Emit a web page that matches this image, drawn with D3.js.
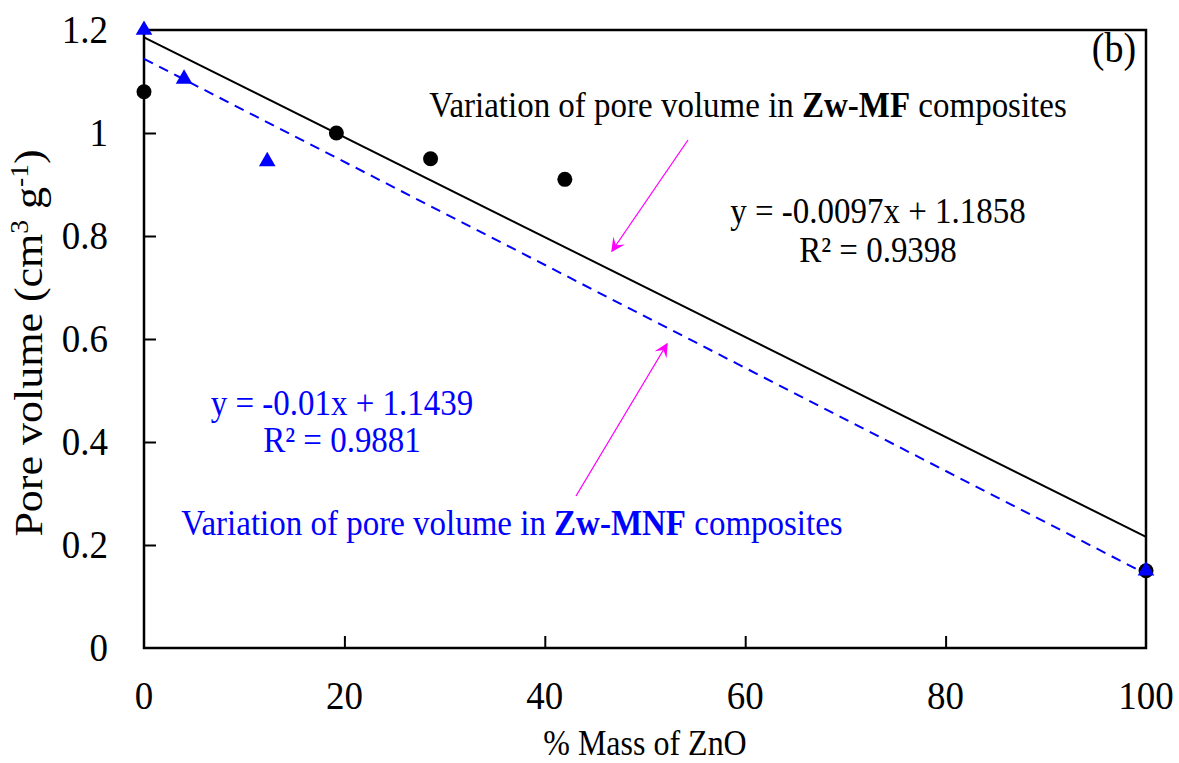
<!DOCTYPE html>
<html>
<head>
<meta charset="utf-8">
<script src="https://cdn.jsdelivr.net/npm/d3@7"></script>
<style>
  body { margin: 0; background: #fff; }
  text { font-family: "Liberation Serif", "Times New Roman", serif; }
</style>
</head>
<body>
<svg id="chart" width="1179" height="763"></svg>
<script>
// data
var mfMass = [0, 19.2, 28.6, 42.0, 100];
var mfVolume = [1.08, 1.0, 0.95, 0.91, 0.15];
var mnfMass = [0, 4.0, 12.3, 100];
var mnfVolume = [1.2, 1.105, 0.945, 0.15];
// trend lines (slope, intercept) as printed on the chart
var mfFit = [-0.0097, 1.1858];
var mnfFit = [-0.01, 1.1439];
var xTicks = [0, 20, 40, 60, 80, 100];
var yTicks = [0, 0.2, 0.4, 0.6, 0.8, 1, 1.2];

var svg = d3.select("#chart");
var plotLeft = 144, plotRight = 1146, plotTop = 30, plotBottom = 648;
var stretch = 1.1; // the original picture is a bit taller than wide

var x = d3.scaleLinear().domain([0, 100]).range([plotLeft, plotRight]);
var y = d3.scaleLinear().domain([0, 1.2]).range([plotBottom, plotTop]);

// text placed at a baseline point, slightly stretched vertically
function addText(px, py, size, anchor, fill) {
    return svg.append("g")
        .attr("transform", "translate(" + px + "," + py + ") scale(1," + stretch + ")")
        .append("text")
        .attr("text-anchor", anchor)
        .style("font-size", size + "px")
        .style("fill", fill || "#000");
}

// frame
svg.append("rect")
    .attr("x", plotLeft).attr("y", plotTop)
    .attr("width", plotRight - plotLeft).attr("height", plotBottom - plotTop)
    .style("fill", "none").style("stroke", "#000").style("stroke-width", 2.5);

// ticks pointing inside
var yAxis = d3.axisRight(y).tickValues(yTicks.slice(1, -1)).tickSize(12).tickFormat("");
svg.append("g").attr("transform", "translate(" + plotLeft + ",0)").call(yAxis)
    .call(function(g) { g.select(".domain").remove(); })
    .selectAll("line").style("stroke", "#000").style("stroke-width", 2);

var xAxis = d3.axisTop(x).tickValues(xTicks.slice(1, -1)).tickSize(12).tickFormat("");
svg.append("g").attr("transform", "translate(0," + plotBottom + ")").call(xAxis)
    .call(function(g) { g.select(".domain").remove(); })
    .selectAll("line").style("stroke", "#000").style("stroke-width", 2);

// tick labels
yTicks.forEach(function(d) {
    addText(108, y(d) + 13, 37, "end").text(d3.format("~g")(d));
});
xTicks.forEach(function(d) {
    addText(x(d), 709, 37, "middle").text(d);
});

// axis titles
addText(645, 755, 32, "middle").text("% Mass of ZnO");

var yTitle = svg.append("g")
    .attr("transform", "translate(42,343) rotate(-90) scale(" + stretch + ",1)")
    .append("text")
    .attr("text-anchor", "middle").style("font-size", "40px");
yTitle.append("tspan").text("Pore volume (cm");
yTitle.append("tspan").attr("dy", -14).style("font-size", "25px").text("3");
yTitle.append("tspan").attr("dy", 14).text(" g");
yTitle.append("tspan").attr("dy", -14).style("font-size", "25px").text("-1");
yTitle.append("tspan").attr("dy", 14).text(")");

// trend lines
var line = d3.line().x(function(d) { return x(d[0]); }).y(function(d) { return y(d[1]); });
function fitPoints(f) { return [[0, f[1]], [100, f[0] * 100 + f[1]]]; }

svg.append("path").attr("d", line(fitPoints(mfFit)))
    .style("fill", "none").style("stroke", "#000").style("stroke-width", 2);
svg.append("path").attr("d", line(fitPoints(mnfFit)))
    .style("fill", "none").style("stroke", "#0000ff").style("stroke-width", 2)
    .style("stroke-dasharray", "10,7");

// markers
svg.selectAll(".mf").data(mfMass).enter().append("circle")
    .attr("cx", function(d) { return x(d); })
    .attr("cy", function(d, i) { return y(mfVolume[i]); })
    .attr("r", 7.5).style("fill", "#000");

var tri = d3.symbol().type(d3.symbolTriangle).size(120);
svg.selectAll(".mnf").data(mnfMass).enter().append("path")
    .attr("d", tri)
    .attr("transform", function(d, i) { return "translate(" + x(d) + "," + y(mnfVolume[i]) + ")"; })
    .style("fill", "#0000ff");

// annotations
addText(1114, 62, 38, "middle").text("(b)");

var t1 = addText(748, 117, 33, "middle");
t1.append("tspan").text("Variation of pore volume in ");
t1.append("tspan").style("font-weight", "bold").text("Zw-MF");
t1.append("tspan").text(" composites");

var t2 = addText(512, 535, 33, "middle", "#0000ff");
t2.append("tspan").text("Variation of pore volume in ");
t2.append("tspan").style("font-weight", "bold").text("Zw-MNF");
t2.append("tspan").text(" composites");

addText(878, 223, 33, "middle").text("y = -0.0097x + 1.1858");
addText(878, 262, 33, "middle").text("R² = 0.9398");

addText(342, 415, 33, "middle", "#0000ff").text("y = -0.01x + 1.1439");
addText(342, 452, 33, "middle", "#0000ff").text("R² = 0.9881");

// magenta arrows
var defs = svg.append("defs");
defs.append("marker").attr("id", "head")
    .attr("viewBox", "0 0 10 10").attr("refX", 9).attr("refY", 5)
    .attr("markerWidth", 14).attr("markerHeight", 14).attr("orient", "auto")
    .attr("markerUnits", "userSpaceOnUse")
    .append("path").attr("d", "M0,0 L10,5 L0,10 L4,5 Z").style("fill", "#ff00ff");

var arrows = [[688, 140, 612, 251], [576, 496, 667, 344]];
svg.selectAll(".arrow").data(arrows).enter().append("line")
    .attr("x1", function(d) { return d[0]; }).attr("y1", function(d) { return d[1]; })
    .attr("x2", function(d) { return d[2]; }).attr("y2", function(d) { return d[3]; })
    .style("stroke", "#ff00ff").style("stroke-width", 1.3)
    .attr("marker-end", "url(#head)");
</script>
</body>
</html>
